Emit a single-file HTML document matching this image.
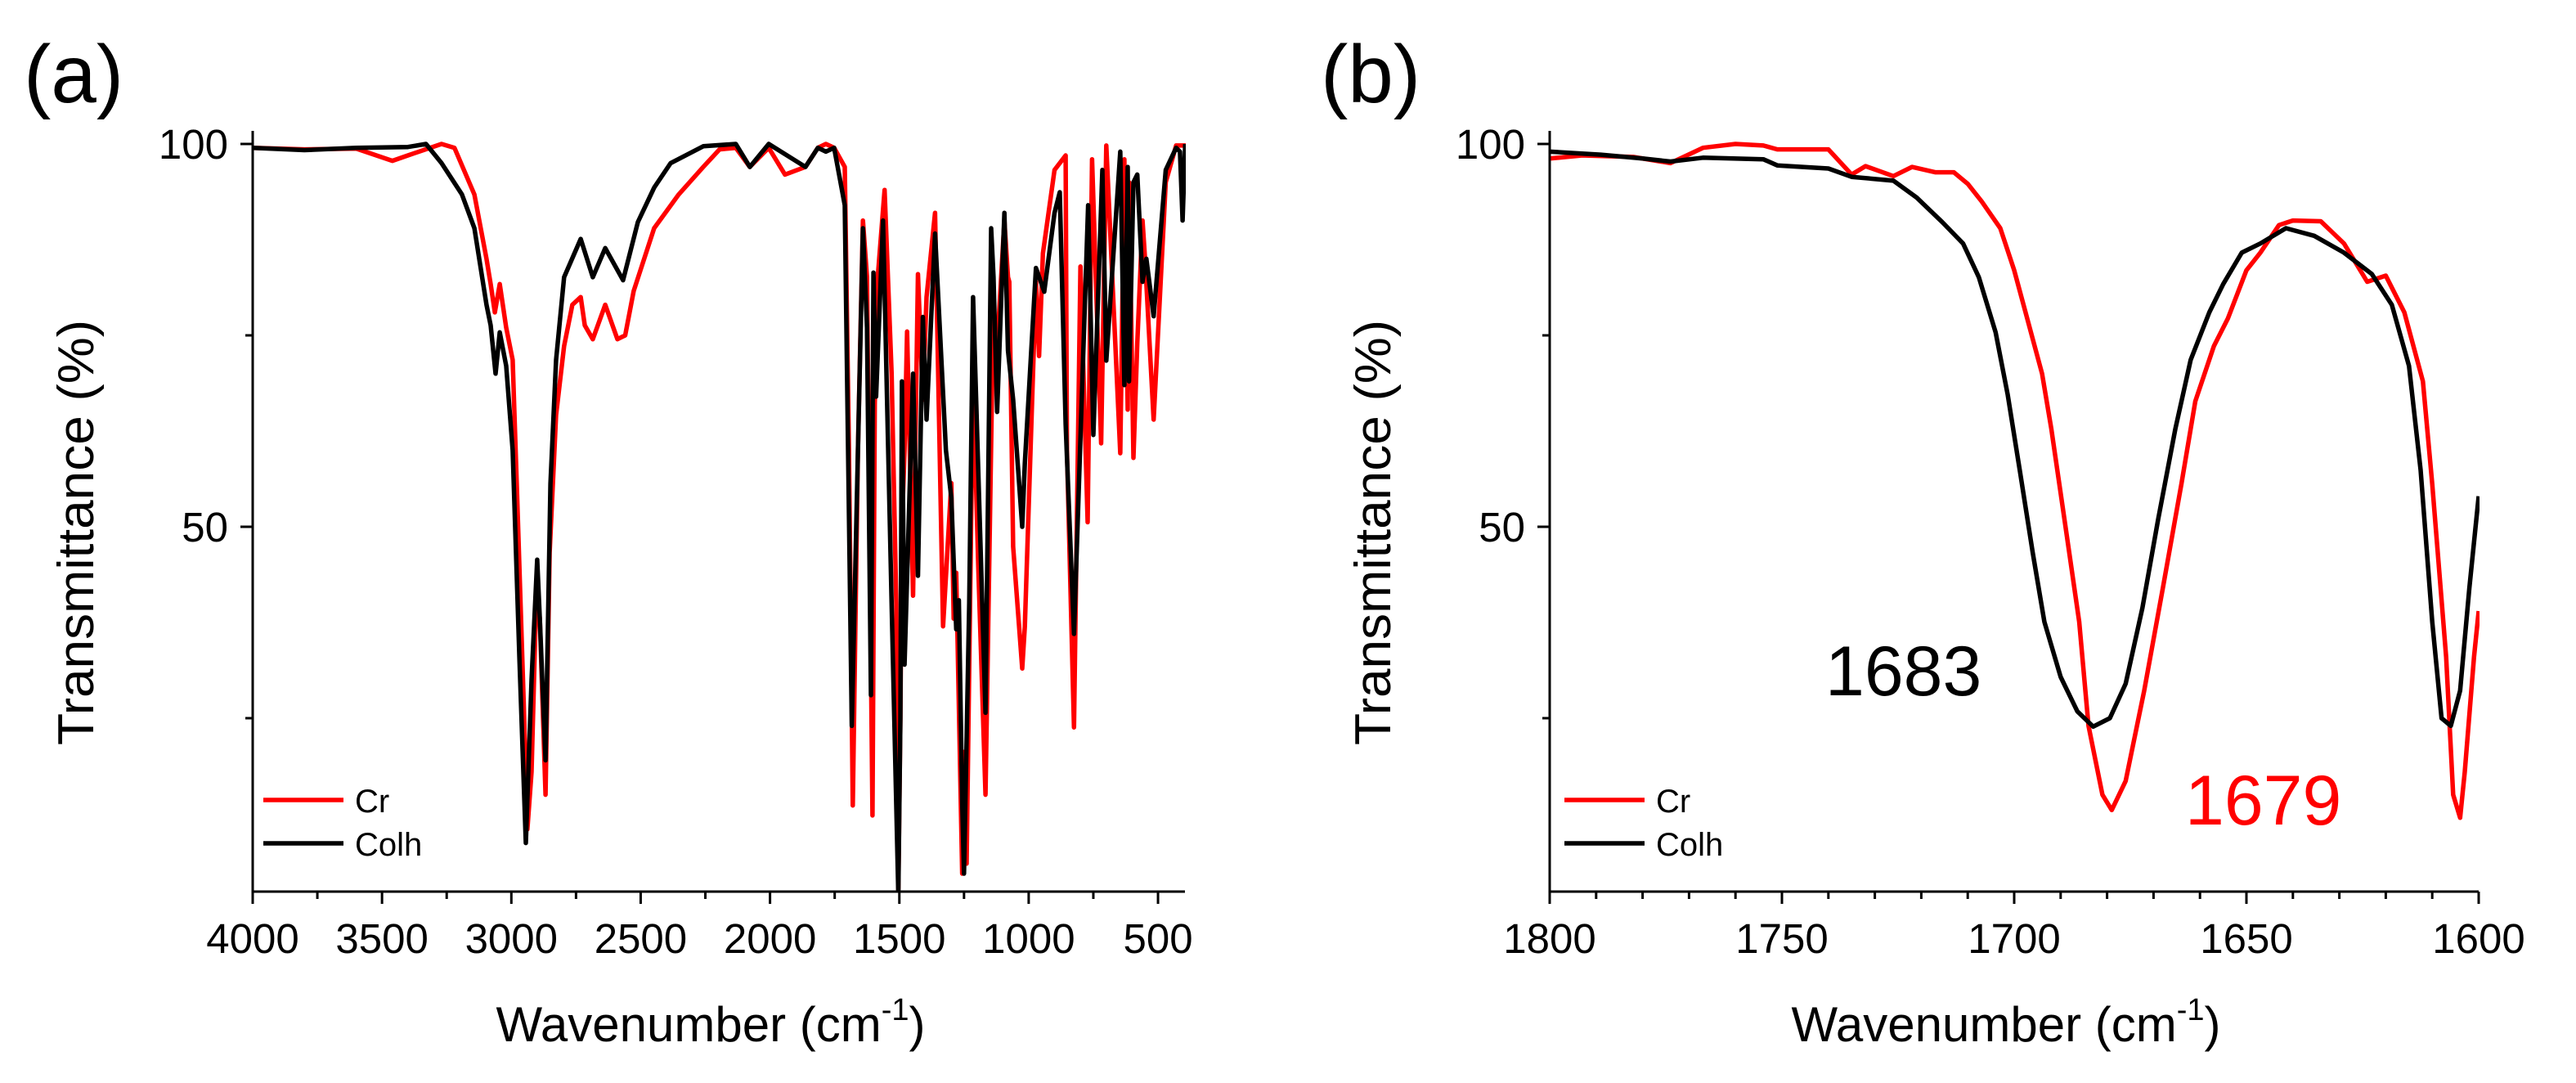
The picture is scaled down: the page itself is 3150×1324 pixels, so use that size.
<!DOCTYPE html>
<html><head><meta charset="utf-8"><style>
html,body{margin:0;padding:0;background:#fff;}
svg{display:block;font-family:"Liberation Sans",sans-serif;}
</style></head><body>
<svg id="fig" width="3150" height="1324" viewBox="0 0 3150 1324" xmlns="http://www.w3.org/2000/svg">
<defs>
<clipPath id="clipA"><rect x="309" y="150" width="1141" height="940"/></clipPath>
<clipPath id="clipB"><rect x="1895" y="150" width="1137" height="940"/></clipPath>
</defs>
<g id="panelA"></g>
<g id="panelB"></g>
</svg>
<script>
// ---- Panel (a) data ----
const aCrW = [4000,3800,3600,3460,3400,3270,3220,3143,3096,3080,3064,3045,3020,2995,2979,2953,2938,2922,2903,2890,2868,2852,2827,2796,2764,2732,2716,2685,2637,2590,2560,2527,2448,2353,2258,2195,2132,2078,2005,1942,1863,1815,1784,1752,1711,1695,1680,1660,1641,1625,1604,1595,1585,1557,1530,1512,1504,1496,1490,1480,1470,1447,1428,1409,1395,1362,1331,1299,1290,1280,1257,1250,1240,1215,1195,1167,1136,1125,1094,1080,1075,1060,1025,1015,972,960,945,900,857,852,825,800,772,755,720,700,646,630,617,612,595,580,560,550,517,470,430,400,390];
const aCrT = [99.5,99.3,99.4,97.8,98.5,100,99.5,93.4,85,81.7,78,81.7,76,71.8,55.6,27.7,10.5,18,42,38,15,46.6,64.6,73.6,79,80,76.3,74.5,79,74.5,75,80.8,89,93.4,97,99.3,99.5,97,99.5,96,97,99.5,100,99.5,97,60,13.6,60,90,82.6,12.3,66,82,94,70,40,2.7,25,50,60,75.5,41,83,66.6,80,91,37,55.7,38,44,4.7,20.6,6,69.8,45,15,80,71.7,90,82.6,82,47.4,31.5,37,82,72.3,85.7,96.6,98.5,60,23.8,84,50.6,98,60.9,99.8,59.6,98,65.3,95,59,74,90,85,64,95,99.8,99.8,99.8];
const aCoW = [4000,3800,3600,3400,3330,3270,3191,3143,3096,3080,3061,3045,3020,2995,2969,2944,2922,2900,2890,2868,2849,2827,2796,2732,2685,2637,2568,2511,2448,2384,2258,2132,2078,2005,1863,1815,1784,1752,1711,1684,1641,1625,1610,1600,1590,1563,1530,1504,1496,1490,1480,1447,1428,1409,1395,1362,1320,1299,1280,1270,1257,1250,1230,1215,1167,1145,1136,1122,1094,1080,1060,1025,1015,972,940,900,880,857,825,770,750,715,700,646,630,617,612,595,580,560,545,517,470,430,415,405,395];
const aCoT = [99.5,99.2,99.5,99.6,100,97.5,93.4,89,79,76.3,70,75.4,71,60,33,8.7,30,45.7,38,19.5,55.6,71.8,82.6,87.6,82.6,86.4,82.2,89.8,94.3,97.5,99.7,100,97,100,97,99.5,99,99.5,92,24,89,76,28,83.2,67,90,40,2,25,69,32,70,43.6,77.4,64,88.3,60,53.8,36.6,40.4,14,4.7,40,80,25.7,89,82.6,65,91,73,66.6,50,58.3,83.8,80.7,91,93.7,63.4,36,92,62,96.6,71.7,99,68.5,97,69,95,96,82,85,77.5,96.6,99.5,99,90,100];
const aXTicks = [4000,3500,3000,2500,2000,1500,1000,500];
const aXTickLabels = ["4000","3500","3000","2500","2000","1500","1000","500"];
// ---- Panel (b) data ----
const bCrW = [1800,1793,1782,1774,1767,1760,1754,1751,1740,1735,1732,1726,1722,1717,1713,1710,1707,1703,1700,1698,1694,1692,1689,1686,1684,1681,1679,1676,1672,1668,1664,1661,1657,1654,1650,1647,1643,1640,1634,1629,1624,1620,1616,1612,1610,1607,1605.5,1604,1603,1601,1600];
const bCrT = [98.1,98.5,98.3,97.5,99.5,100,99.8,99.3,99.3,96,97.1,95.8,97,96.3,96.3,94.8,92.5,89,83.5,79,70,62.8,50.2,37.6,24,15,13,16.8,28.6,42,55.6,66.4,73.6,77.2,83.5,85.8,89.4,90,89.9,87,82,82.8,78,69,55.6,33,15,12,18,33,39];
const bCoW = [1800,1789,1780,1774,1767,1754,1751,1740,1735,1726,1721,1715.5,1711,1707.6,1704,1701.4,1698.8,1696,1693.5,1690,1686.4,1683,1679.4,1676,1672.4,1669,1665.3,1662,1658,1655,1651,1647,1641.5,1635.4,1629,1623,1618.7,1615,1612.5,1610,1608,1606,1604,1602,1600];
const bCoT = [99,98.6,98.1,97.7,98.2,98,97.2,96.8,95.7,95.2,93,89.8,87,82.6,75.4,67.3,57.4,46.6,37.6,30.4,25.9,23.9,25,29.5,39.4,51,62.8,71.8,78,81.7,85.8,87,89,88,85.8,83,79,71,57.4,37.6,25,24,28.6,42,54];
const bXTicks = [1800,1750,1700,1650,1600];
const bXTickLabels = ["1800","1750","1700","1650","1600"];
const yTicks = [100,50];
const yTickLabels = ["100","50"];

const NS = "http://www.w3.org/2000/svg";
function mk(parent, tag, attrs, text){
  const e = document.createElementNS(NS, tag);
  for (const k in attrs) e.setAttribute(k, attrs[k]);
  if (text !== undefined) e.textContent = text;
  parent.appendChild(e);
  return e;
}
const yScale = v => 176 + (100 - v) * 9.36;
const axA = w => 309 + (4000 - w) * 0.3163;
const axB = w => 1895 + (1800 - w) * 5.68;

function drawPanel(g, xs, x0, x1, clip, minorStep, wMin, wMax, ticks, tickLabels, series, label, legendX, annotations){
  series.forEach(s => {
    const pts = s.w.map((w,i) => xs(w).toFixed(1) + "," + yScale(s.t[i]).toFixed(1)).join(" ");
    const pl = mk(g, "polyline", {points: pts, fill: "none", stroke: s.color, "stroke-width": 5.5, "stroke-linejoin": "round", "clip-path": "url(#" + clip + ")"});
    
    
  });
  const ax = mk(g, "path", {d: `M${x0},160 V1090 H${x1}`, fill: "none", stroke: "#000", "stroke-width": 3});
  
  
  for (let w = wMax; w >= wMin - 1e-6; w -= minorStep){
    const major = ticks.some(t => Math.abs(t - w) < 1e-6);
    const t = mk(g, "line", {x1: xs(w), x2: xs(w), y1: 1090, y2: 1090 + (major ? 15 : 9), stroke: "#000", "stroke-width": 3});
    
    
  }
  ticks.forEach((w,i) => {
    const tl = mk(g, "text", {x: xs(w), y: 1165, "font-size": 51, "text-anchor": "middle"}, tickLabels[i]);
    
    
  });
  [100,75,50,25].forEach(v => {
    const major = yTicks.includes(v);
    const t = mk(g, "line", {x1: x0, x2: x0 - (major ? 15 : 9), y1: yScale(v), y2: yScale(v), stroke: "#000", "stroke-width": 3});
    
    
  });
  yTicks.forEach((v,i) => {
    const tl = mk(g, "text", {x: x0 - 30, y: yScale(v) + 18, "font-size": 51, "text-anchor": "end"}, yTickLabels[i]);
    
    
  });
  const cx = (x0 + x1) / 2;
  const xt = mk(g, "text", {x: cx - 10, y: 1273, "font-size": 60, "text-anchor": "middle"});
  
  
  mk(xt, "tspan", {}, "Wavenumber (cm");
  mk(xt, "tspan", {dy: -26, "font-size": 38}, "-1");
  mk(xt, "tspan", {dy: 26}, ")");
  const yt = mk(g, "text", {x: 0, y: 0, "font-size": 62, "text-anchor": "middle", textLength: 520, lengthAdjust: "spacingAndGlyphs", transform: `translate(${x0 - 195},651) rotate(-90)`}, "Transmittance (%)");
  
  
  const pl = mk(g, "text", {x: x0 - 280, y: 125, "font-size": 100}, label);
  
  
  series.forEach((s,i) => {
    const ly = 978 + i * 53;
    const ll = mk(g, "line", {x1: legendX, x2: legendX + 98, y1: ly, y2: ly, stroke: s.color, "stroke-width": 5.5});
    
    
    const lt = mk(g, "text", {x: legendX + 112, y: ly + 15, "font-size": 40}, s.label);
    
    
  });
  annotations.forEach(a => {
    const at = mk(g, "text", {x: a.x, y: a.y, "font-size": 86, fill: a.color}, a.text);
    
    
  });
}

drawPanel(document.getElementById("panelA"), axA, 309, 1449, "clipA", 250, 500, 4000, aXTicks, aXTickLabels,
  [{w: aCrW, t: aCrT, color: "#ff0000", name: "cr-spectrum-line", label: "Cr"},
   {w: aCoW, t: aCoT, color: "#000000", name: "colh-spectrum-line", label: "Colh"}],
  "(a)", 322, []);
drawPanel(document.getElementById("panelB"), axB, 1895, 3031, "clipB", 10, 1600, 1800, bXTicks, bXTickLabels,
  [{w: bCrW, t: bCrT, color: "#ff0000", name: "cr-spectrum-line", label: "Cr"},
   {w: bCoW, t: bCoT, color: "#000000", name: "colh-spectrum-line", label: "Colh"}],
  "(b)", 1913, [{x: 2232, y: 850, text: "1683", color: "#000"}, {x: 2672, y: 1008, text: "1679", color: "#ff0000"}]);
</script>
</body></html>
